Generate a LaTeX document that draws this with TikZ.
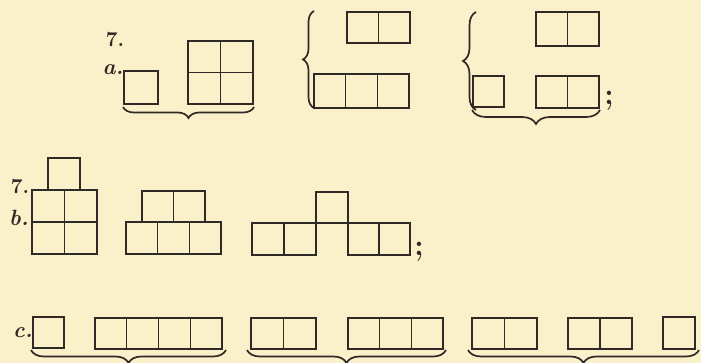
\documentclass[tikz,border=0pt]{standalone}
\usepackage{tikz}
\usetikzlibrary{decorations.pathreplacing}
\definecolor{paper}{RGB}{250,240,201}
\definecolor{ink}{RGB}{48,42,38}

\begin{document}
\begin{tikzpicture}[x=1pt, y=-1pt,
  box/.style={draw=ink, line width=1.3pt},
  brc/.style={draw=ink, line width=1.7pt, decorate, decoration={brace, amplitude=#1}},
  brc/.default=11pt,
  lab/.style={text=ink, inner sep=0pt, font=\fontsize{22}{22}\selectfont\bfseries\itshape},
  num/.style={text=ink, inner sep=0pt, font=\fontsize{21}{21}\selectfont\bfseries},
  semi/.style={text=ink, inner sep=0pt, font=\fontsize{30}{30}\selectfont\bfseries}]

\path[fill=paper, use as bounding box] (0,0) rectangle (701,363);

% Row a
\node[num] (sevenA) at (115,40) {7.};
\node[lab] (labA) at (113,70) {a.};

% one cell and a 2x2 block
\draw[box] (124,71) rectangle (158,104);
\draw[box] (188,41) rectangle (253,104);
\draw[box] (220.5,41) -- (220.5,104) (188,72.5) -- (253,72.5);
\draw[brc] (254,107) -- (123,107);

% two over three
\draw[brc] (314,108) -- (314,11);
\draw[box] (347,12) rectangle (410,43);
\draw[box] (378.5,12) -- (378.5,43);
\draw[box] (314,74) rectangle (409,108);
\foreach \x in {345.7,377.3} \draw[box] (\x,74) -- (\x,108);

% two over one and two
\draw[brc=13pt] (476,110) -- (476,12);
\draw[box] (536,12) rectangle (599,46);
\draw[box] (567.5,12) -- (567.5,46);
\draw[box] (473,76) rectangle (504,107);
\draw[box] (536,76) rectangle (599,108);
\draw[box] (567.5,76) -- (567.5,108);
\draw[brc=14pt] (600,110) -- (472,110);
\node[semi] (semiA) at (609,101) {;};

% Row b
\node[num] (sevenB) at (20,187) {7.};
\node[lab] (labB) at (19,218) {b.};

% one over 2x2
\draw[box] (48,158) rectangle (80,190);
\draw[box] (32,190) rectangle (97,254);
\draw[box] (64.5,190) -- (64.5,254) (32,222) -- (97,222);

% two over three
\draw[box] (142,191) rectangle (205,222);
\draw[box] (173.5,191) -- (173.5,222);
\draw[box] (126,222) rectangle (221,254);
\foreach \x in {157.7,189.3} \draw[box] (\x,222) -- (\x,254);

% two, one raised, two
\draw[box] (252,223) rectangle (316,255);
\draw[box] (284,223) -- (284,255);
\draw[box] (316,192) rectangle (348,223);
\draw[box] (348,223) rectangle (410,255);
\draw[box] (379,223) -- (379,255);
\node[semi] (semiB) at (419,252) {;};

% Row c
\node[lab] (labC) at (23,333) {c.};

\draw[box] (33,317) rectangle (64,348);
\draw[box] (95,318) rectangle (222,349);
\foreach \x in {126.75,158.5,190.25} \draw[box] (\x,318) -- (\x,349);
\draw[brc=13pt] (226,350) -- (31,350);

\draw[box] (251,318) rectangle (316,349);
\draw[box] (283.5,318) -- (283.5,349);
\draw[box] (348,318) rectangle (443,349);
\foreach \x in {379.7,411.3} \draw[box] (\x,318) -- (\x,349);
\draw[brc=13pt] (446,350) -- (247,350);

\draw[box] (472,318) rectangle (537,349);
\draw[box] (504.5,318) -- (504.5,349);
\draw[box] (568,318) rectangle (632,349);
\draw[box] (600,318) -- (600,349);
\draw[box] (663,317) rectangle (695,349);
\draw[brc=13pt] (699,350) -- (468,350);

\end{tikzpicture}
\end{document}
